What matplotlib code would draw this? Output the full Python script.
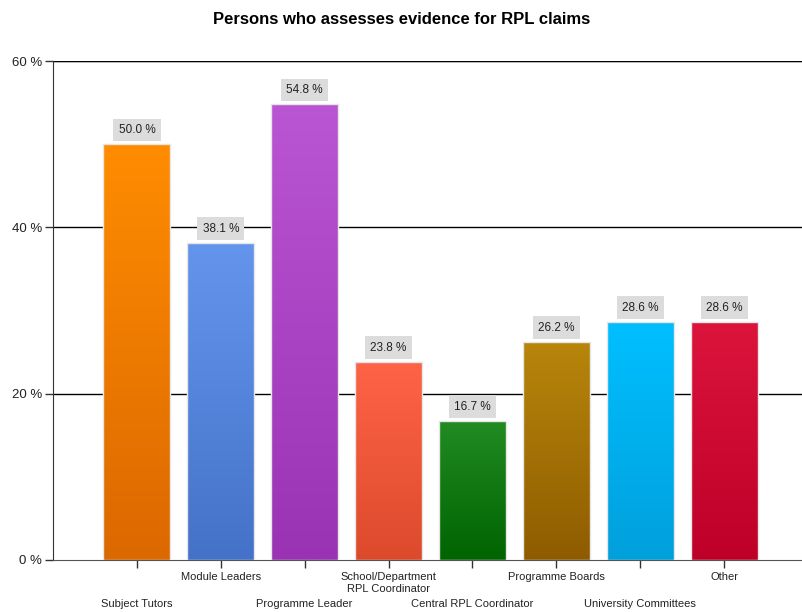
import numpy as np
import matplotlib
matplotlib.use("Agg")
import matplotlib.pyplot as plt
from matplotlib.colors import LinearSegmentedColormap

plt.rcParams['font.family'] = ['Liberation Sans', 'DejaVu Sans']

categories = ["Subject Tutors", "Module Leaders", "Programme Leader",
              "School/Department\nRPL Coordinator", "Central RPL Coordinator",
              "Programme Boards", "University Committees", "Other"]
values = [50.0, 38.1, 54.8, 23.8, 16.7, 26.2, 28.6, 28.6]
top_colors = ["#FF8C00", "#6495ED", "#BA55D3", "#FF6347", "#228B22",
              "#B8860B", "#00BFFF", "#DC143C"]
bottom_colors = ["#DC6800", "#4472C8", "#9A32B4", "#DC4A2C", "#006400",
                 "#8E5C00", "#00A0DC", "#BE0028"]
yticks = [0, 20, 40, 60]

fig = plt.figure(figsize=(8.03, 6.12), dpi=100)
ax = fig.add_axes([53 / 803, 1 - 560 / 612, 1 - 53 / 803 + 0.002, (560 - 61) / 612])

x = np.arange(len(categories))
width = 0.8
bars = ax.bar(x, values, width=width, color="none", edgecolor="#E6E6E6",
              linewidth=1.0, zorder=3)

grad = np.linspace(0, 1, 256).reshape(-1, 1)
for i, b in enumerate(bars):
    cmap = LinearSegmentedColormap.from_list("g%d" % i, [bottom_colors[i], top_colors[i]])
    x0, y0 = b.get_x(), b.get_y()
    ax.imshow(grad, cmap=cmap, origin="lower", aspect="auto",
              extent=(x0, x0 + b.get_width(), y0, y0 + b.get_height()), zorder=2)
    ax.annotate("%.1f %%" % values[i], xy=(x[i], values[i]), xytext=(0, 6),
                textcoords="offset points", ha="center", va="bottom",
                fontsize=8.5, color="#222222", zorder=4,
                bbox=dict(boxstyle="square,pad=0.45", fc="#DCDCDC", ec="none"))

ax.set_xlim(-1, 7.96)
ax.set_ylim(0, 60)
ax.set_yticks(yticks)
ax.set_yticklabels(["%d %%" % v for v in yticks], fontsize=9.5, color="#222222")
for v in yticks[1:]:
    ax.axhline(v, color="black", linewidth=1.0, zorder=1)
ax.axhline(60, color="black", linewidth=1.6, zorder=1)

ax.set_xticks(x)
ax.set_xticklabels([])
ax.tick_params(axis="x", length=6, width=1, color="#333333", direction="out")
ax.tick_params(axis="y", length=6, width=1, color="#333333", direction="out", pad=2)

for i, name in enumerate(categories):
    off = -28 if i % 2 == 0 else -9
    ax.annotate(name, xy=(x[i], 0), xycoords=("data", "axes fraction"),
                xytext=(0, off), textcoords="offset points", ha="center", va="top",
                fontsize=8, color="#222222", linespacing=1.15)

for s in ["top", "right"]:
    ax.spines[s].set_visible(False)
ax.spines["left"].set_color("#333333")
ax.spines["bottom"].set_color("#555555")

fig.text(0.5, 1 - 20 / 612, "Persons who assesses evidence for RPL claims",
         ha="center", va="center", fontsize=12, fontweight="bold")

fig.savefig("out.png", dpi=100)
